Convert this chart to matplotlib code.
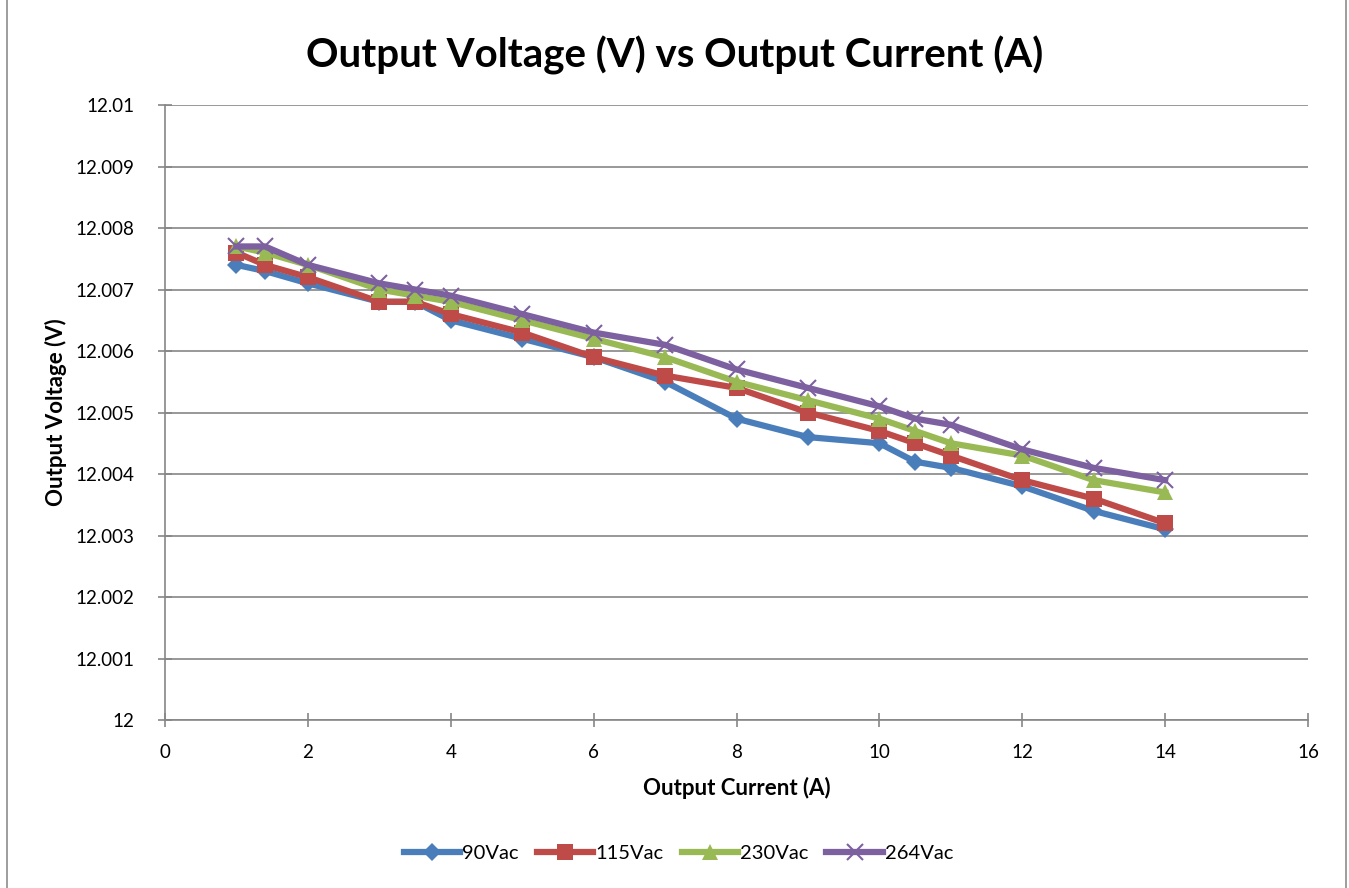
import matplotlib.pyplot as plt
from matplotlib.patches import Rectangle

# Output current (A) and measured output voltage (V) per input line voltage
current = [1, 1.4, 2, 3, 3.5, 4, 5, 6, 7, 8, 9, 10, 10.5, 11, 12, 13, 14]
v_90 = [12.0074, 12.0073, 12.0071, 12.0068, 12.0068, 12.0065, 12.0062, 12.0059, 12.0055,
        12.0049, 12.0046, 12.0045, 12.0042, 12.0041, 12.0038, 12.0034, 12.0031]
v_115 = [12.0076, 12.0074, 12.0072, 12.0068, 12.0068, 12.0066, 12.0063, 12.0059, 12.0056,
         12.0054, 12.0050, 12.0047, 12.0045, 12.0043, 12.0039, 12.0036, 12.0032]
v_230 = [12.0077, 12.0076, 12.0074, 12.0070, 12.0069, 12.0068, 12.0065, 12.0062, 12.0059,
         12.0055, 12.0052, 12.0049, 12.0047, 12.0045, 12.0043, 12.0039, 12.0037]
v_264 = [12.0077, 12.0077, 12.0074, 12.0071, 12.0070, 12.0069, 12.0066, 12.0063, 12.0061,
         12.0057, 12.0054, 12.0051, 12.0049, 12.0048, 12.0044, 12.0041, 12.0039]
labels = ['90Vac', '115Vac', '230Vac', '264Vac']

plt.rcParams['font.family'] = ['Lato', 'DejaVu Sans']

fig = plt.figure(figsize=(13.49, 8.88), dpi=100)
ax = fig.add_axes([165 / 1349, 1 - 720 / 888, (1308 - 165) / 1349, (720 - 105) / 888])

# chart border
fig.patches.append(Rectangle((0.005, -0.01), 0.993, 1.02, transform=fig.transFigure,
                             fill=False, edgecolor='#8c8c8c', lw=1.2))

styles = [
    (v_90, '#4A7EBB', 'D', 9),
    (v_115, '#BE4B48', 's', 11),
    (v_230, '#98B954', '^', 12),
    (v_264, '#7D60A0', 'x', 12),
]
for (vals, col, mk, ms), lab in zip(styles, labels):
    ax.plot(current, vals, color=col, lw=4.5, marker=mk, markersize=ms,
            markeredgewidth=1.5 if mk == 'x' else 0, markeredgecolor=col,
            markerfacecolor=col, label=lab)

ax.set_xlim(0, 16)
ax.set_ylim(12, 12.01)
ax.set_xticks(range(0, 17, 2))
yt = [12 + 0.001 * i for i in range(11)]
ax.set_yticks(yt)
ax.set_yticklabels(['12'] + ['%.3f' % v for v in yt[1:-1]] + ['12.01'])
ax.grid(axis='y', color='#868686', lw=1.2)
ax.set_axisbelow(True)
for s in ['top', 'right']:
    ax.spines[s].set_visible(False)
for s in ['left', 'bottom']:
    ax.spines[s].set_color('#868686')
    ax.spines[s].set_linewidth(1.2)
ax.tick_params(axis='both', colors='#868686', labelcolor='black', labelsize=13.5,
               direction='inout', length=10, width=1.2)
ax.tick_params(axis='y', pad=17)
ax.tick_params(axis='x', pad=12)

ax.set_xlabel('Output Current (A)', fontsize=16, fontweight='bold', labelpad=12)
ax.set_ylabel('Output Voltage (V)', fontsize=16, fontweight='bold', labelpad=6)
fig.suptitle('Output Voltage (V) vs Output Current (A)', fontsize=29, fontweight='bold',
             y=0.96)

fig.legend(loc='center', bbox_to_anchor=(0.503, 1 - 853 / 888), ncol=4, frameon=False,
           fontsize=14.5, handlelength=2.8, columnspacing=0.9, handletextpad=0.1)

fig.savefig('out.png', dpi=100)
